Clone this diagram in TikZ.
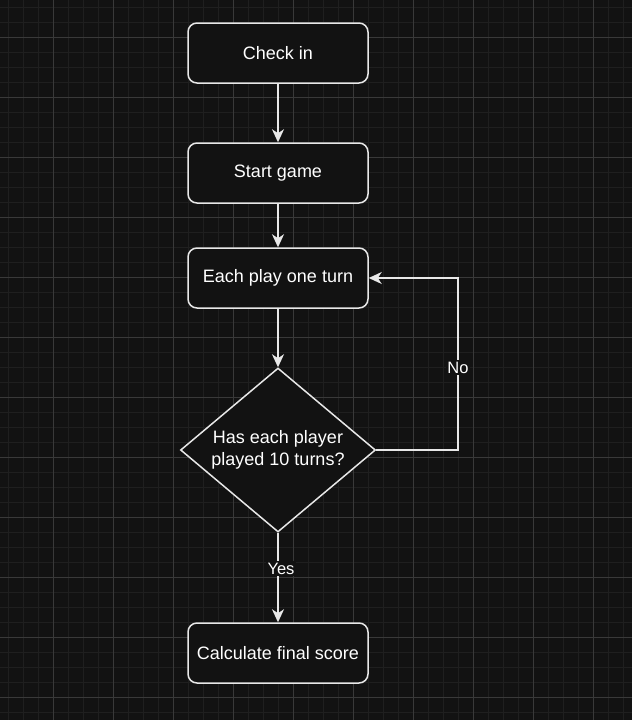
\documentclass[tikz,border=0pt]{standalone}
\usepackage{fontspec}
\setmainfont{Liberation Sans}
\usetikzlibrary{arrows.meta,shapes.geometric}
\definecolor{bgc}{HTML}{121212}
\definecolor{gridminor}{HTML}{1F1F1F}
\definecolor{gridmajor}{HTML}{393939}
\definecolor{strokec}{HTML}{E8E8E8}
\begin{document}
\begin{tikzpicture}[x=1pt,y=-1pt,
  box/.style={draw=strokec, line width=1.5pt, fill=bgc, rounded corners=9pt,
    minimum width=180pt, minimum height=60pt, text=white, inner sep=0pt,
    font=\fontsize{18}{21}\selectfont},
  decision/.style={draw=strokec, line width=1.5pt, fill=bgc, diamond, aspect=1.19,
    minimum width=195pt, minimum height=164pt, inner sep=0pt, text=white,
    align=center, font=\fontsize{18}{22}\selectfont},
  conn/.style={draw=strokec, line width=1.5pt, -{Stealth[length=13pt,width=12pt,inset=4pt]}},
  elabel/.style={fill=bgc, text=white, inner sep=1.5pt, font=\fontsize{16.5}{18}\selectfont}
]
\useasboundingbox (0,0) rectangle (632,720);
\fill[bgc] (0,0) rectangle (632,720);
% grid
\foreach \i in {0,...,42} {
  \draw[gridminor, line width=1pt] ({8.3+15*\i},0) -- ({8.3+15*\i},720);
}
\foreach \i in {0,...,48} {
  \draw[gridminor, line width=1pt] (0,{7.3+15*\i}) -- (632,{7.3+15*\i});
}
\foreach \i in {-1,...,10} {
  \draw[gridmajor, line width=1pt] ({53.3+60*\i},0) -- ({53.3+60*\i},720);
}
\foreach \i in {-1,...,12} {
  \draw[gridmajor, line width=1pt] (0,{37.3+60*\i}) -- (632,{37.3+60*\i});
}
% nodes
\node[box] (checkin) at (278,53) {Check in};
\node[box] (start) at (278,173) {Start game};
\node[box] (each) at (278,278) {Each play one turn};
\node[decision] (dec) at (278,450) {Has each player\\played 10 turns?};
\node[box] (calc) at (278,653) {Calculate final score};
\coordinate (loop) at (458,278);
% connectors
\draw[conn] (checkin) -- (start);
\draw[conn] (start) -- (each);
\draw[conn] (each) -- (dec);
\draw[conn] (dec.east) -| (loop) node[elabel, pos=0.74] {No} -- (each.east);
\draw[conn] (dec.south) -- node[elabel, pos=0.4, xshift=3pt] {Yes} (calc.north);
\end{tikzpicture}
\end{document}
